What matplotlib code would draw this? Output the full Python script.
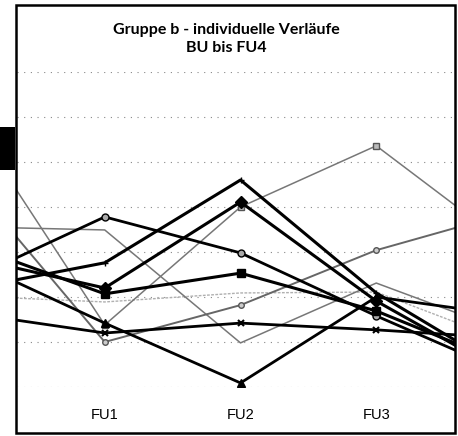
import numpy as np
import matplotlib
matplotlib.use("Agg")
import matplotlib.pyplot as plt
from matplotlib.patches import Rectangle

# categories (BU and FU4 fall outside the visible crop)
zeitpunkte = ["BU", "FU1", "FU2", "FU3", "FU4"]

# individual courses, values
verlauf_a = [3.18, 3.76, 5.60, 3.09, 1.28]
verlauf_b = [3.88, 3.20, 5.11, 2.91, 1.22]
verlauf_c = [6.99, 2.38, 5.00, 6.36, 4.08]
verlauf_d = [3.38, 4.78, 3.98, 2.58, 1.27]
verlauf_e = [4.56, 4.49, 1.98, 3.31, 2.19]
verlauf_f = [4.16, 3.07, 3.53, 2.69, 1.46]
verlauf_g = [5.59, 2.00, 2.82, 4.04, 4.89]
verlauf_h = [2.64, 2.20, 2.42, 2.27, 2.08]
verlauf_i = [3.82, 2.42, 1.09, 3.00, 2.58]
verlauf_j = [3.02, 2.89, 3.09, 3.11, 1.96]

W, H = 458, 436
fig = plt.figure(figsize=(W/100, H/100), dpi=100)
ax = fig.add_axes([16.5/W, 1-387/H, (455-16.5)/W, (387-72)/H])

x = np.arange(len(zeitpunkte))

# thin gray series first
ax.plot(x, verlauf_j, color="#b0b0b0", lw=1.0, ls=(0, (2, 1)))
ax.plot(x, verlauf_e, color="#777777", lw=1.1)
ax.plot(x, verlauf_c, color="#777777", lw=1.1, marker="s", ms=4, mfc="#bbbbbb", mec="#555555")
ax.plot(x, verlauf_g, color="#666666", lw=1.4, marker="o", ms=4, mfc="#cccccc", mec="#555555")

# thick black series
ax.plot(x, verlauf_h, color="black", lw=2.0, marker="x", ms=5, mew=1.5)
ax.plot(x, verlauf_i, color="black", lw=2.0, marker="^", ms=6)
ax.plot(x, verlauf_d, color="black", lw=2.0, marker="o", ms=5, mfc="#aaaaaa", mec="black")
ax.plot(x, verlauf_f, color="black", lw=2.2, marker="s", ms=6)
ax.plot(x, verlauf_a, color="black", lw=2.2, marker="+", ms=5)
ax.plot(x, verlauf_b, color="black", lw=2.2, marker="D", ms=6)

ax.set_yticks(np.arange(1, 9))
ax.set_yticklabels([])
ax.set_xticks(x)
ax.set_xticklabels(zeitpunkte, fontfamily="Liberation Sans", fontsize=10.5)
ax.set_xlim(0.35, 3.58)
ax.set_ylim(1, 8)
ax.tick_params(length=0, pad=15)
ax.tick_params(axis="y", left=False)
ax.grid(axis="y", color="#888888", lw=0.8, ls=(0, (1, 5)))
for s in ax.spines.values():
    s.set_visible(False)

fig.text(226/W, 1-30/H, "Gruppe b - individuelle Verläufe", ha="center", va="center",
         fontfamily="Lato", fontweight="bold", fontsize=11.5)
fig.text(226/W, 1-48/H, "BU bis FU4", ha="center", va="center",
         fontfamily="Lato", fontweight="bold", fontsize=11.5)

# chart frame and scan artefact at the left
fig.patches.append(Rectangle((15.5/W, 1-433/H), (455-15.5)/W, (433-5)/H, transform=fig.transFigure,
                             fill=False, ec="black", lw=1.8))
fig.patches.append(Rectangle((0, 1-170/H), 15/W, 43/H, transform=fig.transFigure,
                             fc="black", ec="none"))

fig.savefig("out.png", dpi=100)
